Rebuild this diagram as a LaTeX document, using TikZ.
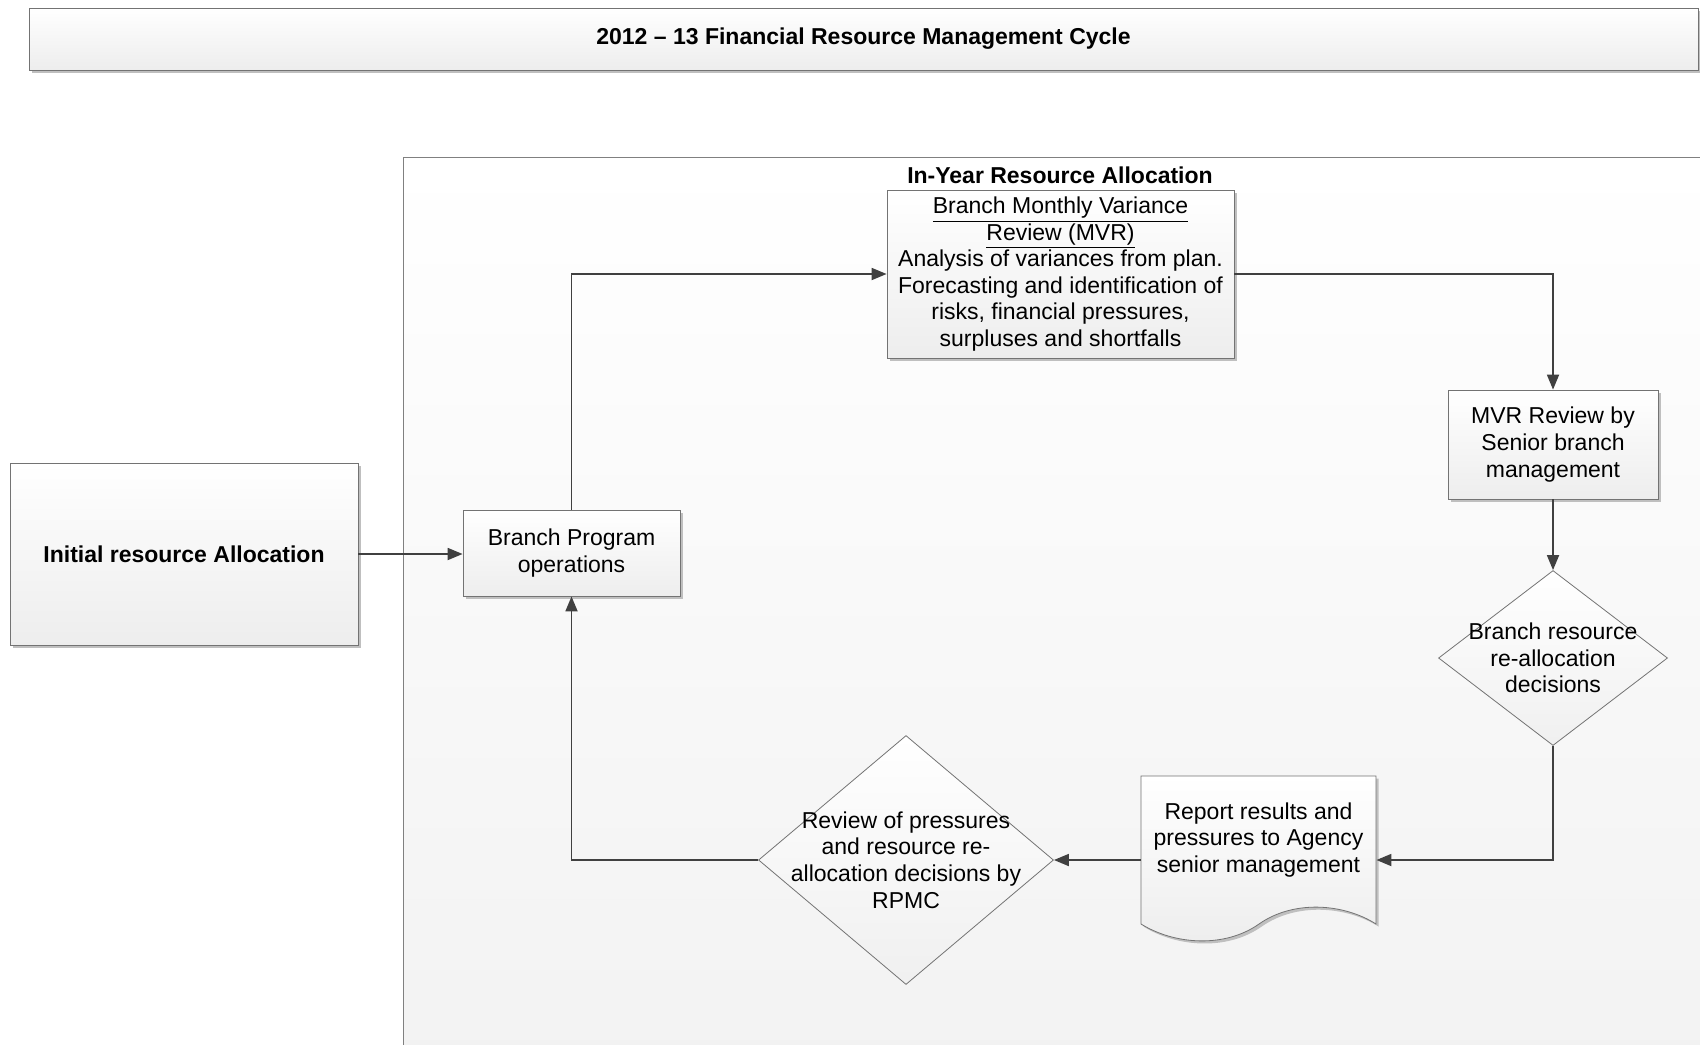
\documentclass[tikz,border=0pt]{standalone}
\usepackage{fontspec}
\setmainfont{Liberation Sans}
\usetikzlibrary{shapes.geometric,arrows.meta,shadows}

\begin{document}
\begin{tikzpicture}[x=0.5pt,y=-0.5pt,
	every node/.style={font=\fontsize{11.5}{13.3}\selectfont, align=center},
	heading/.style={font=\fontsize{11.5}{13.3}\selectfont\bfseries},
	box/.style={draw=black!55, line width=0.4pt, top color=white, bottom color=black!7, inner sep=0pt,
		drop shadow={shadow xshift=1.3pt, shadow yshift=-1.3pt, fill=black!25, opacity=1}},
	decision/.style={diamond, draw=black!55, line width=0.4pt, top color=white, bottom color=black!6, inner sep=0pt},
	area/.style={draw=black!50, line width=0.4pt, top color=white, bottom color=black!5, inner sep=0pt},
	flow/.style={draw=black!75, line width=0.9pt, -{Triangle[length=7.5pt,width=6pt]}}]
	\useasboundingbox (0,0) rectangle (1700,1044);

	\node[box, heading, minimum width=834.5pt, minimum height=31pt] (title) at (863.5,39) {2012 -- 13 Financial Resource Management Cycle};
	\node[area, anchor=north west, minimum width=655pt, minimum height=450pt] (inyear) at (403,157) {};
	\node[heading] (inyearname) at (1060,175) {In-Year Resource Allocation};

	\node[box, heading, minimum width=174pt, minimum height=91pt] (init) at (184,554) {Initial resource Allocation};
	\node[box, minimum width=108.5pt, minimum height=43pt] (brprog) at (571.5,553) {Branch Program\\operations};
	\node[box, minimum width=173.5pt, minimum height=84pt] (mvr) at (1060.5,274)
		{\underline{Branch Monthly Variance}\\\underline{Review (MVR)}\\Analysis of variances from plan.\\Forecasting and identification of\\risks, financial pressures,\\surpluses and shortfalls};
	\node[box, minimum width=105pt, minimum height=54.5pt] (mvrrev) at (1553,444.5) {MVR Review by\\Senior branch\\management};
	\node[decision, minimum width=114.5pt, minimum height=87.5pt,
		label={center:Branch resource\\re-allocation\\decisions}] (brdec) at (1553,658) {};

	\path[box] (1141,776) -- (1376,776) -- (1376,924) .. controls (1343,903) and (1293,900) .. (1259,924)
		.. controls (1225,948) and (1175,945) .. (1141,924) -- cycle;
	\node[minimum width=117.5pt, minimum height=84pt, inner sep=0pt,
		label={[yshift=10pt]center:Report results and\\pressures to Agency\\senior management}] (report) at (1258.5,860) {};

	\node[decision, minimum width=147.5pt, minimum height=124.5pt,
		label={center:Review of pressures\\and resource re-\\allocation decisions by\\RPMC}] (rpmc) at (906,860) {};

	\draw[flow] (init.east) -- (init.east -| brprog.west);
	\draw[flow] (brprog.north) |- (mvr.west);
	\draw[flow] (mvr.east) -| (mvrrev.north);
	\draw[flow] (mvrrev) -- (brdec);
	\draw[flow] (brdec.south) |- (report.east);
	\draw[flow] (report.west) -- (rpmc.east);
	\draw[flow] (rpmc.west) -| (brprog.south);
\end{tikzpicture}
\end{document}
